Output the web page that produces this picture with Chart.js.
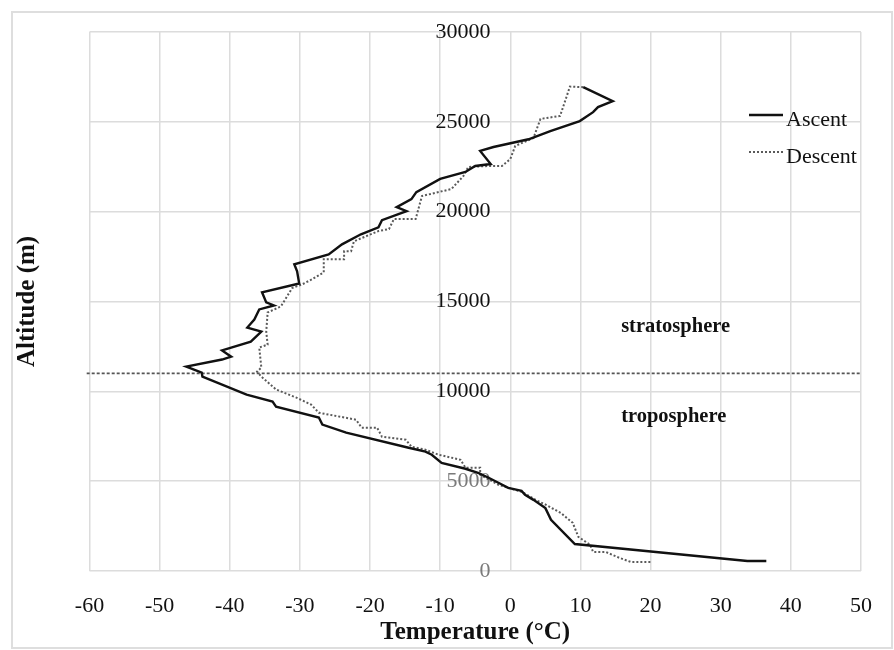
<!DOCTYPE html>
<html><head><meta charset="utf-8">
<script src="https://cdn.jsdelivr.net/npm/chart.js@4.4.1/dist/chart.umd.min.js"></script>
<style>html,body{margin:0;padding:0;background:#fff;}</style>
</head><body>
<canvas id="c" width="894" height="650"></canvas>
<script>
// ---- data ----
const ascentTemp = [36.5,33.8,9.2,5.8,5.0,3.3,2.1,1.6,-0.3,-1.7,-3.1,-4.5,-6.4,-9.8,-11.2,-12.1,-14.5,-23.4,-26.8,-27.3,-33.4,-33.9,-37.6,-43.9,-44.0,-46.2,-41.1,-39.8,-41.1,-37.0,-35.5,-37.5,-36.5,-35.8,-33.7,-34.8,-35.4,-30.1,-30.4,-30.8,-25.9,-24.0,-21.3,-18.8,-18.3,-14.8,-16.2,-14.1,-13.4,-10.0,-6.4,-5.0,-2.8,-4.3,-2.4,2.6,5.7,9.9,11.8,12.5,14.6,10.4];
const ascentAlt  = [560,560,1500,2850,3500,3960,4240,4460,4630,4910,5190,5450,5690,6020,6470,6640,6860,7700,8150,8540,9150,9430,9820,10820,11040,11380,11770,11930,12280,12770,13330,13550,14000,14560,14780,14950,15510,16000,16680,17070,17620,18180,18740,19130,19530,20030,20250,20700,21090,21820,22210,22540,22650,23380,23600,24030,24480,25040,25540,25820,26150,26930];
const descentTemp = [10.4,8.5,7.1,4.3,3.3,0.7,0.0,-1.2,-3.1,-6.0,-6.7,-8.4,-12.6,-13.5,-16.6,-17.3,-18.8,-22.3,-22.7,-23.7,-23.7,-26.6,-26.6,-28.3,-29.7,-31.1,-32.7,-34.6,-34.8,-34.6,-35.8,-35.5,-36.1,-35.5,-33.4,-30.5,-28.4,-27.3,-22.0,-21.2,-19.0,-18.3,-14.9,-14.1,-12.1,-10.2,-7.1,-6.4,-4.3,-4.3,-1.7,1.6,3.6,5.1,7.2,8.9,9.7,11.4,11.8,13.6,15.6,17.2,20.0];
const descentAlt  = [26930,26960,25330,25160,24100,23660,22930,22540,22540,22490,21980,21260,20870,19590,19590,19030,18920,18350,17800,17800,17350,17350,16620,16230,15950,15750,14730,14390,13330,12600,12440,11320,11100,10820,10100,9650,9260,8810,8420,7980,7980,7470,7310,6920,6750,6470,6190,5750,5750,5360,4800,4410,3960,3680,3230,2680,1900,1450,1060,1060,725,500,500];
const tropopauseTemp = [-60.4, 50];
const tropopauseAlt  = [11000, 11000];
const xTickValues = [-60,-50,-40,-30,-20,-10,0,10,20,30,40,50];
const yTickValues = [0,5000,10000,15000,20000,25000,30000];
const seriesLabels = ['Ascent','Descent'];
const axisTitles = ['Temperature (°C)','Altitude (m)'];
const layerLabels = ['stratosphere','troposphere'];

// ---- chart ----
const FONT = "'Liberation Serif','Times New Roman',Times,serif";
const GRID = '#dcdcdc';
const pts = (xs, ys) => xs.map((v, i) => ({x: v, y: ys[i]}));

const framePlugin = {
  id: 'frame',
  beforeDraw(chart) {
    const c = chart.ctx;
    c.save();
    c.fillStyle = '#fff';
    c.fillRect(0, 0, chart.width, chart.height);
    c.strokeStyle = '#dedede';
    c.lineWidth = 2;
    c.strokeRect(12, 12, 880, 636);
    c.restore();
  },
  afterDraw(chart) {
    const c = chart.ctx;
    const xs = chart.scales.x, ys = chart.scales.y;
    c.save();
    // layer labels
    c.fillStyle = '#111';
    c.font = 'bold 20.5px ' + FONT;
    c.textAlign = 'left';
    c.textBaseline = 'middle';
    c.fillText(layerLabels[0], xs.getPixelForValue(15.8), ys.getPixelForValue(13600));
    c.fillText(layerLabels[1], xs.getPixelForValue(15.8), ys.getPixelForValue(8600));
    // legend
    const rows = [115, 152];
    chart.data.datasets.slice(0, 2).forEach((ds, i) => {
      const y = rows[i];
      c.beginPath();
      c.strokeStyle = ds.borderColor;
      c.lineWidth = ds.borderWidth;
      c.setLineDash(ds.borderDash || []);
      c.moveTo(749, y);
      c.lineTo(783, y);
      c.stroke();
      c.setLineDash([]);
      c.fillStyle = '#111';
      c.font = '22px ' + FONT;
      c.fillText(ds.label, 786, y + 5);
    });
    c.restore();
  }
};

new Chart(document.getElementById('c'), {
  type: 'scatter',
  data: {
    datasets: [
      {label: seriesLabels[0], data: pts(ascentTemp, ascentAlt), showLine: true,
       borderColor: '#111', borderWidth: 2.4, pointRadius: 0, tension: 0, fill: false},
      {label: seriesLabels[1], data: pts(descentTemp, descentAlt), showLine: true,
       borderColor: '#5a5a5a', borderWidth: 2, borderDash: [2, 2], pointRadius: 0, tension: 0, fill: false},
      {label: 'tropopause', data: pts(tropopauseTemp, tropopauseAlt), showLine: true,
       borderColor: '#555', borderWidth: 1.6, borderDash: [3, 2], pointRadius: 0, clip: false}
    ]
  },
  options: {
    responsive: false,
    animation: false,
    devicePixelRatio: 1,
    layout: {padding: {left: 13, right: 29.7, top: 32, bottom: 2}},
    plugins: {legend: {display: false}, tooltip: {enabled: false}},
    scales: {
      x: {
        type: 'linear', position: 'bottom', min: -60, max: 50,
        afterBuildTicks: s => { s.ticks = xTickValues.map(v => ({value: v})); },
        afterFit: s => { s.height = 77; },
        grid: {color: GRID, lineWidth: 1.5, drawTicks: false},
        border: {display: false},
        ticks: {padding: 22, color: '#111', font: {family: FONT, size: 22},
                autoSkip: false, maxRotation: 0, callback: v => String(v)},
        title: {display: true, text: axisTitles[0], color: '#111', padding: 0,
                font: {family: FONT, size: 25, weight: 'bold', lineHeight: 1.2}}
      },
      y: {
        type: 'linear', position: {x: -2.84}, min: 0, max: 30000,
        afterBuildTicks: s => { s.ticks = yTickValues.map(v => ({value: v})); },
        grid: {color: GRID, lineWidth: 1.5, drawTicks: false},
        border: {display: false},
        ticks: {padding: 0, font: {family: FONT, size: 22},
                color: c => (c.tick && c.tick.value <= 5000 ? '#7a7a7a' : '#111'),
                callback: v => String(v)}
      },
      yTitle: {
        type: 'linear', position: 'left', min: 0, max: 30000,
        afterFit: s => { s.width = 76.5; },
        grid: {display: false}, border: {display: false},
        ticks: {display: false},
        title: {display: true, text: axisTitles[1], color: '#111', padding: 0,
                font: {family: FONT, size: 25, weight: 'bold', lineHeight: 1.2}}
      }
    }
  },
  plugins: [framePlugin]
});
</script>
</body></html>
